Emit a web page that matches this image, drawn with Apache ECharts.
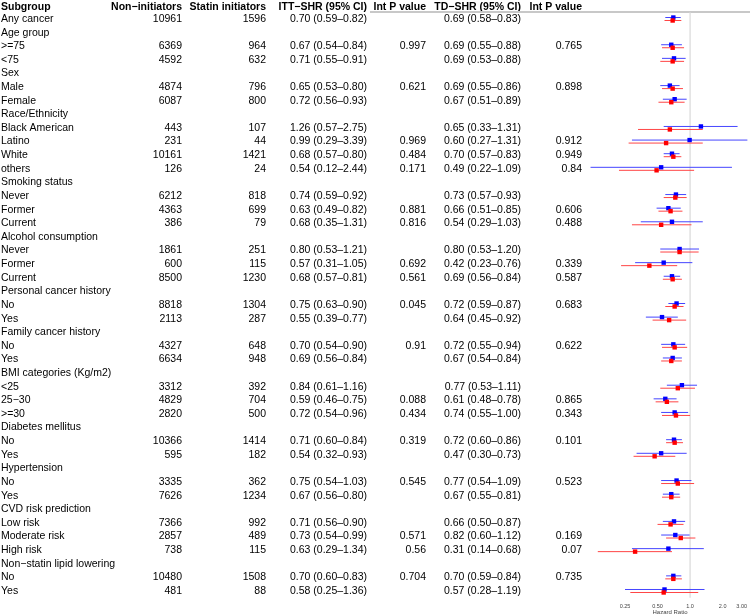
<!DOCTYPE html>
<html>
<head>
<meta charset="utf-8">
<script src="https://cdn.jsdelivr.net/npm/echarts@6/dist/echarts.min.js"></script>
<style>
  html, body { margin: 0; padding: 0; background: #fff; }
  #main { width: 750px; height: 616px; }
</style>
</head>
<body>
<div id="main"></div>
<script>
// rows of the table, top to bottom (null = group header row)
var subgroups = ['Any cancer', 'Age group', '>=75', '<75', 'Sex', 'Male', 'Female',
  'Race/Ethnicity', 'Black American', 'Latino', 'White', 'others',
  'Smoking status', 'Never', 'Former', 'Current',
  'Alcohol consumption', 'Never', 'Former', 'Current',
  'Personal cancer history', 'No', 'Yes',
  'Family cancer history', 'No', 'Yes',
  'BMI categories (Kg/m2)', '<25', '25\u221230', '>=30',
  'Diabetes mellitus', 'No', 'Yes',
  'Hypertension', 'No', 'Yes',
  'CVD risk prediction', 'Low risk', 'Moderate risk', 'High risk',
  'Non\u2212statin lipid lowering', 'No', 'Yes']
var nonInit = [10961, null, 6369, 4592, null, 4874, 6087, null, 443, 231, 10161, 126,
  null, 6212, 4363, 386, null, 1861, 600, 8500, null, 8818, 2113, null, 4327, 6634,
  null, 3312, 4829, 2820, null, 10366, 595, null, 3335, 7626, null, 7366, 2857, 738,
  null, 10480, 481]
var statinInit = [1596, null, 964, 632, null, 796, 800, null, 107, 44, 1421, 24,
  null, 818, 699, 79, null, 251, 115, 1230, null, 1304, 287, null, 648, 948,
  null, 392, 704, 500, null, 1414, 182, null, 362, 1234, null, 992, 489, 115,
  null, 1508, 88]
var ittHR = [0.70, null, 0.67, 0.71, null, 0.65, 0.72, null, 1.26, 0.99, 0.68, 0.54,
  null, 0.74, 0.63, 0.68, null, 0.80, 0.57, 0.68, null, 0.75, 0.55, null, 0.70, 0.69,
  null, 0.84, 0.59, 0.72, null, 0.71, 0.54, null, 0.75, 0.67, null, 0.71, 0.73, 0.63,
  null, 0.70, 0.58]
var ittLo = [0.59, null, 0.54, 0.55, null, 0.53, 0.56, null, 0.57, 0.29, 0.57, 0.12,
  null, 0.59, 0.49, 0.35, null, 0.53, 0.31, 0.57, null, 0.63, 0.39, null, 0.54, 0.56,
  null, 0.61, 0.46, 0.54, null, 0.60, 0.32, null, 0.54, 0.56, null, 0.56, 0.54, 0.29,
  null, 0.60, 0.25]
var ittHi = [0.82, null, 0.84, 0.91, null, 0.80, 0.93, null, 2.75, 3.39, 0.80, 2.44,
  null, 0.92, 0.82, 1.31, null, 1.21, 1.05, 0.81, null, 0.90, 0.77, null, 0.90, 0.84,
  null, 1.16, 0.75, 0.96, null, 0.84, 0.93, null, 1.03, 0.80, null, 0.90, 0.99, 1.34,
  null, 0.83, 1.36]
var ittP = [null, null, 0.997, null, null, 0.621, null, null, null, 0.969, 0.484, 0.171,
  null, null, 0.881, 0.816, null, null, 0.692, 0.561, null, 0.045, null, null, 0.91, null,
  null, null, 0.088, 0.434, null, 0.319, null, null, 0.545, null, null, null, 0.571, 0.56,
  null, 0.704, null]
var tdHR = [0.69, null, 0.69, 0.69, null, 0.69, 0.67, null, 0.65, 0.60, 0.70, 0.49,
  null, 0.73, 0.66, 0.54, null, 0.80, 0.42, 0.69, null, 0.72, 0.64, null, 0.72, 0.67,
  null, 0.77, 0.61, 0.74, null, 0.72, 0.47, null, 0.77, 0.67, null, 0.66, 0.82, 0.31,
  null, 0.70, 0.57]
var tdLo = [0.58, null, 0.55, 0.53, null, 0.55, 0.51, null, 0.33, 0.27, 0.57, 0.22,
  null, 0.57, 0.51, 0.29, null, 0.53, 0.23, 0.56, null, 0.59, 0.45, null, 0.55, 0.54,
  null, 0.53, 0.48, 0.55, null, 0.60, 0.30, null, 0.54, 0.55, null, 0.50, 0.60, 0.14,
  null, 0.59, 0.28]
var tdHi = [0.83, null, 0.88, 0.88, null, 0.86, 0.89, null, 1.31, 1.31, 0.83, 1.09,
  null, 0.93, 0.85, 1.03, null, 1.20, 0.76, 0.84, null, 0.87, 0.92, null, 0.94, 0.84,
  null, 1.11, 0.78, 1.00, null, 0.86, 0.73, null, 1.09, 0.81, null, 0.87, 1.12, 0.68,
  null, 0.84, 1.19]
var tdP = [null, null, 0.765, null, null, 0.898, null, null, null, 0.912, 0.949, 0.84,
  null, null, 0.606, 0.488, null, null, 0.339, 0.587, null, 0.683, null, null, 0.622, null,
  null, null, 0.865, 0.343, null, 0.101, null, null, 0.523, null, null, null, 0.169, 0.07,
  null, 0.735, null]
var headers = ['Subgroup', 'Non\u2212initiators', 'Statin initiators', 'ITT\u2212SHR (95% CI)',
  'Int P value', 'TD\u2212SHR (95% CI)', 'Int P value']
var tickLabels = { 0.25: '0.25', 0.5: '0.50', 1: '1.0', 2: '2.0', 3: '3.00' }

var FONT = '"Liberation Sans", Arial, Helvetica, sans-serif'

// column anchors: x and alignment of each table column
var colX = [1, 182, 266, 367, 426, 521, 582]
var colAlign = ['left', 'right', 'right', 'right', 'right', 'right', 'right']

function ci(hr, lo, hi) {
  if (hr === null) return ''
  return hr.toFixed(2) + ' (' + lo.toFixed(2) + '\u2013' + hi.toFixed(2) + ')'
}

var tableData = subgroups.map(function (s, i) { return [1, i] })

function forestData(hr, lo, hi) {
  var out = []
  for (var i = 0; i < hr.length; i++) {
    if (hr[i] !== null) out.push([hr[i], i, lo[i], hi[i]])
  }
  return out
}

function renderTable(params, api) {
  var i = params.dataIndex
  var y = api.coord([1, i])[1]
  var cells = [subgroups[i], nonInit[i], statinInit[i], ci(ittHR[i], ittLo[i], ittHi[i]),
    ittP[i], ci(tdHR[i], tdLo[i], tdHi[i]), tdP[i]]
  var kids = []
  cells.forEach(function (s, k) {
    if (s === null || s === '') return
    kids.push({
      type: 'text', x: colX[k], y: y,
      style: { text: String(s), align: colAlign[k], verticalAlign: 'middle',
        fill: '#000', fontSize: 10.5, fontFamily: FONT }
    })
  })
  return { type: 'group', children: kids }
}

function renderCI(offset, lineColor, dotColor) {
  return function (params, api) {
    var row = api.value(1)
    var c = api.coord([api.value(0), row])
    var lo = api.coord([api.value(2), row])
    var hi = api.coord([api.value(3), row])
    var y = c[1] + offset
    return {
      type: 'group',
      children: [
        { type: 'line', shape: { x1: lo[0], y1: y, x2: hi[0], y2: y },
          style: { stroke: lineColor, lineWidth: 1 } },
        { type: 'rect', shape: { x: c[0] - 2.2, y: y - 2.2, width: 4.4, height: 4.4 },
          style: { fill: dotColor } }
      ]
    }
  }
}

function renderRef(params, api) {
  var top = api.coord([api.value(0), 0])
  var bot = api.coord([api.value(0), subgroups.length - 1])
  var half = api.size([0, 1])[1] / 2
  return {
    type: 'line',
    shape: { x1: top[0], y1: top[1] - half, x2: bot[0], y2: bot[1] + half },
    style: { stroke: '#d9d9d9', lineWidth: 1.2 }
  }
}

var graphics = headers.map(function (h, k) {
  return {
    type: 'text', x: colX[k], y: 7,
    style: { text: h, align: colAlign[k], verticalAlign: 'middle',
      fill: '#000', fontSize: 10.5, fontWeight: 'bold', fontFamily: FONT }
  }
})
graphics.push({
  type: 'line', shape: { x1: 370, y1: 12, x2: 750, y2: 12 },
  style: { stroke: '#c8c8c8', lineWidth: 2 }
})
graphics.push({
  type: 'text', x: 670, y: 612,
  style: { text: 'Hazard Ratio', align: 'center', verticalAlign: 'middle',
    fill: '#444', fontSize: 6, fontFamily: FONT }
})

var chart = echarts.init(document.getElementById('main'))
chart.setOption({
  animation: false,
  backgroundColor: '#fff',
  grid: { left: 625, right: 6, top: 12.2, bottom: 18.2, containLabel: false },
  xAxis: {
    type: 'log',
    logBase: 2,
    min: 0.25,
    max: 3,
    axisLine: { lineStyle: { color: '#444', width: 1 } },
    axisTick: { length: 3, lineStyle: { color: '#444' } },
    splitLine: { show: false },
    axisLabel: {
      margin: 5.5,
      fontSize: 5.5,
      color: '#444',
      fontFamily: FONT,
      showMinLabel: true,
      showMaxLabel: true,
      formatter: function (v) {
        var k = Math.round(v * 100) / 100
        return tickLabels[k] !== undefined ? tickLabels[k] : ''
      }
    }
  },
  yAxis: {
    type: 'category',
    inverse: true,
    data: subgroups.map(function (s, i) { return 'r' + i }),
    axisLine: { show: false },
    axisTick: { show: false },
    axisLabel: { show: false },
    splitLine: { show: false }
  },
  graphic: graphics,
  series: [
    {
      type: 'custom',
      clip: false,
      silent: true,
      data: tableData,
      renderItem: renderTable,
      z: 5
    },
    {
      type: 'custom',
      clip: false,
      silent: true,
      data: [[1, 0]],
      renderItem: renderRef,
      z: 2
    },
    {
      type: 'custom',
      clip: false,
      data: forestData(ittHR, ittLo, ittHi),
      renderItem: renderCI(-1.5, '#4545ff', '#0000ff'),
      z: 3
    },
    {
      type: 'custom',
      clip: false,
      data: forestData(tdHR, tdLo, tdHi),
      renderItem: renderCI(1.5, '#ff4545', '#ff0000'),
      z: 4
    }
  ]
})
</script>
</body>
</html>
